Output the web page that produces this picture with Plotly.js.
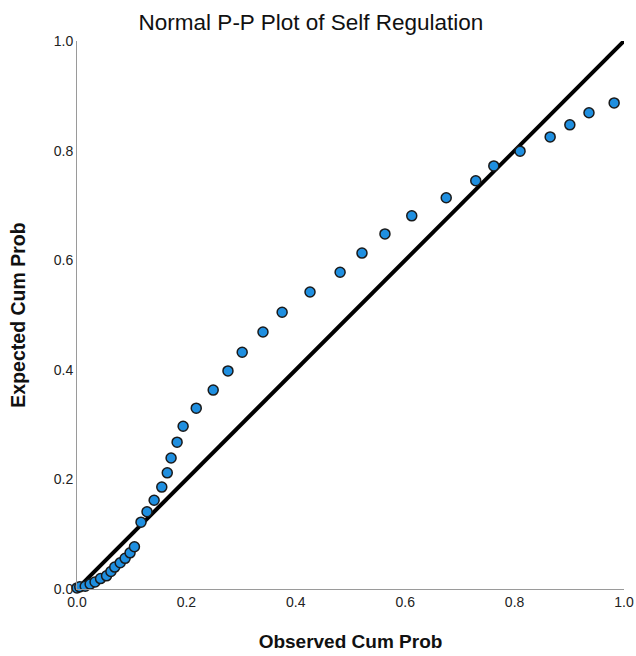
<!DOCTYPE html>
<html>
<head>
<meta charset="utf-8">
<script src="https://cdn.plot.ly/plotly-3.0.1.min.js"></script>
<style>html,body{margin:0;padding:0;background:#fff;}#chart{width:636px;height:656px;}</style>
</head>
<body>
<div id="chart"></div>
<script>
// Observed vs expected cumulative probabilities
const observed = [0.000, 0.005, 0.015, 0.024, 0.033, 0.043, 0.054, 0.062, 0.069, 0.079, 0.088, 0.097, 0.105,
  0.117, 0.128, 0.141, 0.155, 0.165, 0.172, 0.183, 0.194, 0.218, 0.249, 0.276, 0.302, 0.340, 0.375,
  0.426, 0.481, 0.521, 0.563, 0.612, 0.675, 0.729, 0.762, 0.810, 0.865, 0.901, 0.936, 0.982];
const expected = [0.002, 0.004, 0.005, 0.009, 0.013, 0.019, 0.024, 0.032, 0.040, 0.048, 0.056, 0.066, 0.077,
  0.122, 0.141, 0.162, 0.186, 0.212, 0.239, 0.268, 0.297, 0.330, 0.363, 0.398, 0.432, 0.469, 0.505,
  0.542, 0.578, 0.613, 0.648, 0.681, 0.714, 0.745, 0.772, 0.799, 0.825, 0.847, 0.869, 0.887];
const refLineX = [0, 1];
const refLineY = [0, 1];
const tickVals = [0, 0.2, 0.4, 0.6, 0.8, 1.0];
const tickText = ['0.0', '0.2', '0.4', '0.6', '0.8', '1.0'];

const font = 'Liberation Sans, Arial, sans-serif';

const traces = [
  {
    x: refLineX, y: refLineY, mode: 'lines', type: 'scatter',
    line: {color: '#000', width: 4}, hoverinfo: 'skip', cliponaxis: false
  },
  {
    x: observed, y: expected, mode: 'markers', type: 'scatter',
    marker: {size: 10, color: '#1f8fe0', line: {color: '#1a1a1a', width: 1.5}},
    cliponaxis: false
  }
];

const layout = {
  width: 636, height: 656,
  margin: {l: 77, r: 12, t: 41, b: 67},
  paper_bgcolor: '#fff', plot_bgcolor: '#fff',
  showlegend: false,
  title: {
    text: 'Normal P-P Plot of Self Regulation',
    font: {family: font, size: 22.5, color: '#111'},
    x: 311/636, xref: 'container', xanchor: 'center',
    y: 1 - 22/656, yref: 'container', yanchor: 'middle'
  },
  xaxis: {
    range: [0, 1], tickvals: tickVals, ticktext: tickText,
    showgrid: false, zeroline: false, showline: true, linecolor: '#9a9a9a', linewidth: 1,
    ticks: '', tickfont: {family: font, size: 14, color: '#222'},
    title: {text: '<b>Observed Cum Prob</b>', font: {family: font, size: 19, color: '#111'}, standoff: 25}
  },
  yaxis: {
    range: [0, 1], tickvals: tickVals, ticktext: tickText,
    showgrid: false, zeroline: false, showline: true, linecolor: '#9a9a9a', linewidth: 1,
    ticks: '', ticklen: 0, tickfont: {family: font, size: 14, color: '#222'},
    title: {text: '<b>Expected Cum Prob</b>', font: {family: font, size: 19.5, color: '#111'}, standoff: 22}
  }
};

Plotly.newPlot('chart', traces, layout, {displayModeBar: false, staticPlot: true});
</script>
</body>
</html>
